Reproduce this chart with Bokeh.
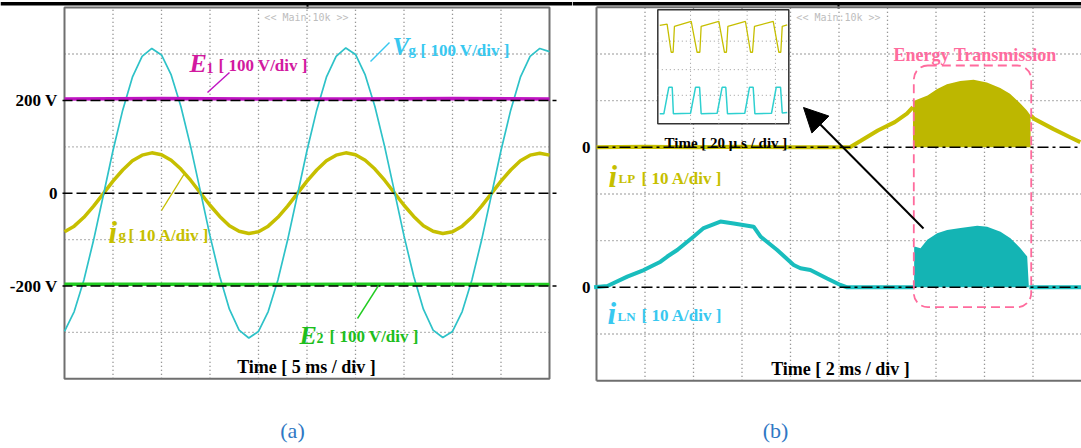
from bokeh.plotting import figure
from bokeh.layouts import row
from bokeh.models import Range1d, Label, BoxAnnotation, Arrow, NormalHead
from bokeh.embed import file_html
from bokeh.resources import INLINE

# ---------------- data : panel (a) ----------------
t_a = list(range(51))  # ms, 5 ms/div
vg = [-298, -255, -187, -101, -5, 92, 179, 250, 295, 312, 298, 255, 187, 101, 5, -92, -179, -250, -295, -312,
      -298, -255, -187, -101, -5, 92, 179, 250, 295, 313, 299, 255, 187, 101, 5, -92, -179, -250, -295, -311,
      -298, -255, -187, -101, -5, 92, 179, 250, 295, 312, 305]            # V
ig = [-8.3, -7.1, -5.2, -2.8, -0.1, 2.6, 5.0, 7.0, 8.2, 8.7, 8.3, 7.1, 5.2, 2.8, 0.1, -2.6, -5.0, -7.0, -8.2, -8.7,
      -8.3, -7.1, -5.2, -2.8, -0.1, 2.6, 5.0, 7.0, 8.2, 8.7, 8.3, 7.1, 5.2, 2.8, 0.1, -2.6, -5.0, -7.0, -8.2, -8.7,
      -8.3, -7.1, -5.2, -2.8, -0.1, 2.6, 5.0, 7.0, 8.2, 8.6, 8.2]          # A
t_e = [0, 10, 20, 30, 40, 50]
e1 = [203, 204, 203, 203, 204, 203]        # V
e2 = [-196, -196, -197, -196, -196, -197]  # V
ticks_a = [200, 0, -200]
ticklabels_a = ["200 V", "0", "-200 V"]

# ---------------- data : panel (b) ----------------
t_lp = [0, 2, 4, 6, 8, 10, 10.45, 10.9, 11.6, 12.3, 12.8, 13.05, float("nan"),
        17.9, 18.05, 18.85, 19.55, 19.95]
i_lp = [0, 0.1, 0, 0.1, 0, 0, 0, 1.4, 3.6, 5.4, 7.2, 8.6, float("nan"),
        6.8, 6.1, 3.9, 2.1, 1.1]                                         # A
t_lp_env = [13.05, 13.1, 13.65, 14.05, 14.45, 15.0, 15.55, 16.1, 16.65, 17.05, 17.5, 17.75, 17.9]
i_lp_env = [8.6, 10.0, 11.1, 12.5, 13.5, 14.2, 14.5, 13.9, 12.7, 11.5, 9.3, 7.9, 6.8]

t_ln = [-0.1, 0.45, 1.27, 1.95, 2.64, 2.92, 3.33, 4.01, 4.42, 5.11, 5.66, 6.48, 6.76, 7.45,
        8.13, 8.41, 8.82, 9.51, 10.06, 10.34, 12.0, 13.1, float("nan"), 17.85, 20.0]
i_ln = [0, 0.3, 2.3, 3.7, 5.5, 6.6, 8.0, 10.9, 12.7, 14.1, 13.7, 13.0, 10.9, 8.0,
        4.8, 4.1, 3.7, 1.9, 0.5, 0, 0, 0, float("nan"), 0, 0]             # A
t_ln_env = [13.1, 13.15, 13.36, 13.64, 14.05, 14.46, 15.01, 15.7, 16.11, 16.66, 17.07, 17.48, 17.76, 17.83]
i_ln_env = [8.7, 8.7, 8.4, 10.2, 11.6, 12.3, 12.7, 13.2, 13.0, 11.9, 10.5, 8.4, 6.6, 0]
ticks_b = [1, -2]
ticklabels_b = ["0", "0"]

# inset (20 us/div)
t_in_y = [1.5, 7.1, 10.2, 11.7, 12.7, 25.5, 30.0, 32.1, 33.1, 46.6, 50.9, 52.4, 53.5,
          66.9, 70.8, 72.3, 73.8, 88.1, 92.4, 93.9, 95.0, 98.8]
in_y = [3.45, 3.50, 2.51, 2.51, 3.42, 3.59, 2.51, 2.51, 3.42, 3.59, 2.51, 2.51, 3.42,
        3.59, 2.51, 2.51, 3.42, 3.59, 2.51, 2.51, 3.42, 3.47]
t_in_c = [1.5, 4.6, 8.4, 11.0, 11.9, 25.0, 28.8, 31.9, 33.1, 45.3, 49.1, 51.9, 53.2,
          66.4, 70.0, 72.8, 74.1, 86.8, 90.4, 93.7, 95.0, 98.8]
in_c = [0.35, 0.35, 1.28, 1.28, 0.35, 0.37, 1.28, 1.28, 0.35, 0.37, 1.28, 1.28, 0.35,
        0.37, 1.28, 1.28, 0.35, 0.37, 1.28, 1.28, 0.38, 0.40]

# ---------------- styles ----------------
SERIF = "Liberation Serif"
MAG_L, MAG_T = "#D21AA0", "#BF14C2"
CY_L, CY_T = "#38C8F0", "#2EC2C8"
GR_L, GR_T = "#1DBE1D", "#22CC22"
YEL, YEL_FILL = "#C6BF00", "#BDB700"
TEAL, TEAL_FILL = "#19BDBD", "#14B4B4"
PINK = "#FF6B9D"
BLUE = "#2F78C4"
GRID_C = "#767676"
FRAME_C = "#6f6f6f"


def put(p, x, y, text, size, color, style="bold", align="left", font=SERIF, baseline="alphabetic"):
    p.add_layout(Label(x=x, y=y, text=text, text_font=font, text_font_size=f"{size}px",
                       text_font_style=style, text_color=color, text_align=align,
                       text_baseline=baseline))


def mkfig(w, xr, yr):
    p = figure(width=w, height=448, x_range=xr, y_range=yr,
               x_axis_location=None, y_axis_location=None, toolbar_location=None,
               output_backend="svg", min_border=0, min_border_left=0, min_border_right=0,
               min_border_top=0, min_border_bottom=0)
    p.grid.visible = False
    p.outline_line_color = None
    return p


# ================= panel (a) =================  page x 0..572
A_Y0, A_PY, A_X0, A_PX = 192.7, 46.4, 64.0, 48.5


def AX(px):
    return (px - A_X0) / A_PX * 5


def AY(py):
    return (A_Y0 - py) / A_PY * 100


pa = mkfig(572, Range1d(AX(0), AX(572)), Range1d(AY(448), AY(0)))
pa.extra_y_ranges = {"amp": Range1d(AY(448) / 10, AY(0) / 10)}

# top rule of the page
pa.segment(x0=[AX(0)], y0=[AY(3.3)], x1=[AX(572)], y1=[AY(3.3)], line_color="black", line_width=3.4)
pa.segment(x0=[AX(307)], y0=[AY(3)], x1=[AX(307)], y1=[AY(8)], line_color="black", line_width=2)

# scope graticule
gx = [5, 10, 15, 20, 25, 30, 35, 40, 45]
gy = [-300, -100, 100, 300]
pa.segment(x0=gx, y0=[-400] * len(gx), x1=gx, y1=[400] * len(gx),
           line_color=GRID_C, line_dash="1 3", line_width=1.3)
pa.segment(x0=[0] * len(gy), y0=gy, x1=[50] * len(gy), y1=gy,
           line_color=GRID_C, line_dash="1 3", line_width=1.3)
pa.quad(left=0, right=50, bottom=-400, top=400, fill_color=None, line_color=FRAME_C, line_width=2)

pa.line(t_a, ig, y_range_name="amp", line_color=YEL, line_width=3.5)
pa.line(t_a, vg, line_color=CY_T, line_width=1.7)
pa.line(t_e, e1, line_color=MAG_T, line_width=3.5)
pa.line(t_e, e2, line_color=GR_T, line_width=3.5)

pa.segment(x0=[AX(62)] * 3, y0=ticks_a, x1=[AX(556)] * 3, y1=ticks_a,
           line_color="black", line_dash="10 4", line_width=1.5)
for v, s in zip(ticks_a, ticklabels_a):
    put(pa, AX(57), v, s, 17, "black", align="right", baseline="middle")

# leader lines
pa.segment(x0=[AX(207)], y0=[AY(92)], x1=[AX(229)], y1=[AY(72)], line_color=MAG_T, line_width=1.4)
pa.segment(x0=[AX(370)], y0=[AY(61)], x1=[AX(389)], y1=[AY(42)], line_color=CY_L, line_width=1.4)
pa.segment(x0=[AX(161)], y0=[AY(210)], x1=[AX(184)], y1=[AY(173)], line_color=YEL, line_width=1.4)
pa.segment(x0=[AX(357)], y0=[AY(318)], x1=[AX(378)], y1=[AY(285)], line_color=GR_T, line_width=1.4)

put(pa, AX(189), AY(63), "E", 26, MAG_L, "bold italic")
put(pa, AX(206), AY(67), "1", 14, MAG_L)
put(pa, AX(218), AY(65), "[ 100 V/div ]", 17, MAG_L)
put(pa, AX(392), AY(46), "V", 25, CY_L, "bold italic")
put(pa, AX(408), AY(49), "g", 15, CY_L)
put(pa, AX(420), AY(50), "[ 100 V/div ]", 17, CY_L)
put(pa, AX(108), AY(232), "i", 31, YEL, "bold italic")
put(pa, AX(118), AY(234), "g", 15, YEL)
put(pa, AX(128), AY(235), "[ 10 A/div ]", 17, YEL)
put(pa, AX(299), AY(335), "E", 26, GR_L, "bold italic")
put(pa, AX(316), AY(337), "2", 14, GR_L)
put(pa, AX(329), AY(336), "[ 100 V/div ]", 17, GR_L)
put(pa, AX(306), AY(366), "Time [ 5 ms / div ]", 18, "black", align="center")
put(pa, AX(292), AY(430), "(a)", 22, BLUE, "normal", align="center", baseline="middle")
put(pa, AX(306), AY(17), "<< Main:10k >>", 10, "#BDBDBD", "normal", align="center",
    font="DejaVu Sans Mono")

# ================= panel (b) =================  page x 572..1081
B_Y0, B_PY, B_X0, B_PX = 193.5, 46.67, 596.0, 24.25


def BX(px):
    return (px - B_X0) / B_PX


def BY(py):
    return (B_Y0 - py) / B_PY


pb = mkfig(509, Range1d(BX(572), BX(1081)), Range1d(BY(448), BY(0)))
ylo, yhi = BY(448), BY(0)
pb.extra_y_ranges = {
    "lp": Range1d((ylo - 1) * 10, (yhi - 1) * 10),
    "ln": Range1d((ylo + 2) * 10, (yhi + 2) * 10),
    "iy": Range1d((123.3 - 448) / 28.5, (123.3 - 0) / 28.5),
}
pb.extra_x_ranges = {"ix": Range1d((572 - 657.3) / 1.31, (1081 - 657.3) / 1.31)}

pb.segment(x0=[BX(572)], y0=[BY(3.3)], x1=[BX(1081)], y1=[BY(3.3)], line_color="black", line_width=3.4)
pb.segment(x0=[BX(838)], y0=[BY(3)], x1=[BX(838)], y1=[BY(8)], line_color="black", line_width=2)

gxb = [2, 4, 6, 8, 10, 12, 14, 16, 18]
gyb = [-3, -1, 0, 2, 3]
pb.segment(x0=gxb, y0=[-4] * len(gxb), x1=gxb, y1=[4] * len(gxb),
           line_color=GRID_C, line_dash="1 3", line_width=1.3)
pb.segment(x0=[0] * len(gyb), y0=gyb, x1=[20] * len(gyb), y1=gyb,
           line_color=GRID_C, line_dash="1 3", line_width=1.3)
pb.segment(x0=[0, 0, 0], y0=[-4, 4, -4], x1=[0, 20, 20], y1=[4, 4, -4],
           line_color=FRAME_C, line_width=2)

# inset
pb.quad(left=0, right=100, bottom=0, top=4, x_range_name="ix", y_range_name="iy",
        fill_color="white", line_color="#333333", line_width=1.5)
pb.segment(x0=[25, 46.6, 68.2, 89.8, 0, 0, 0], y0=[0, 0, 0, 0, 1, 1.9, 2.9],
           x1=[25, 46.6, 68.2, 89.8, 100, 100, 100], y1=[4, 4, 4, 4, 1, 1.9, 2.9],
           x_range_name="ix", y_range_name="iy", line_color="#9a9a9a", line_dash="1 3", line_width=1)
pb.line(t_in_y, in_y, x_range_name="ix", y_range_name="iy", line_color=YEL, line_width=1.3)
pb.line(t_in_c, in_c, x_range_name="ix", y_range_name="iy", line_color="#2ED0D0", line_width=1.5)

# traces
pb.line(t_lp, i_lp, y_range_name="lp", line_color=YEL, line_width=4)
pb.varea(x=t_lp_env, y1=0, y2=i_lp_env, y_range_name="lp", fill_color=YEL_FILL)
pb.line(t_ln, i_ln, y_range_name="ln", line_color=TEAL, line_width=4)
pb.varea(x=t_ln_env, y1=0, y2=i_ln_env, y_range_name="ln", fill_color=TEAL_FILL)

pb.segment(x0=[BX(597)] * 2, y0=ticks_b, x1=[BX(1081)] * 2, y1=ticks_b,
           line_color="black", line_dash="11 4 3 4", line_width=1.5)
for v, s in zip(ticks_b, ticklabels_b):
    put(pb, BX(590), v, s, 17, "black", align="right", baseline="middle")

pb.add_layout(BoxAnnotation(left=BX(913.3), right=BX(1030.7), top=BY(65), bottom=BY(306.7),
                            fill_color=None, fill_alpha=0, line_color=PINK, line_alpha=1.0,
                            line_dash="9 5", line_width=1.8, border_radius=14))
pb.add_layout(Arrow(end=NormalHead(size=24, fill_color="black", line_color="black"),
                    x_start=BX(923), y_start=BY(228), x_end=BX(803), y_end=BY(107),
                    line_color="black", line_width=2))

put(pb, BX(608), BY(176), "i", 31, YEL, "bold italic")
put(pb, BX(618), BY(178), "LP", 13, YEL)
put(pb, BX(641), BY(178), "[ 10 A/div ]", 17, YEL)
put(pb, BX(607), BY(313), "i", 31, CY_L, "bold italic")
put(pb, BX(617), BY(316), "LN", 13, CY_L)
put(pb, BX(641), BY(315), "[ 10 A/div ]", 17, CY_L)
put(pb, BX(840), BY(368), "Time [ 2 ms / div ]", 18, "black", align="center")
put(pb, BX(775), BY(430), "(b)", 22, BLUE, "normal", align="center", baseline="middle")
put(pb, BX(893), BY(54), "Energy Transmission", 18, PINK)
put(pb, BX(664), BY(142), "Time [ 20 \u03bc s / div ]", 15, "black")
put(pb, BX(838), BY(17), "<< Main:10k >>", 10, "#BDBDBD", "normal", align="center",
    font="DejaVu Sans Mono")

layout = row(pa, pb)
open("out.html", "w").write(file_html(layout, INLINE))
